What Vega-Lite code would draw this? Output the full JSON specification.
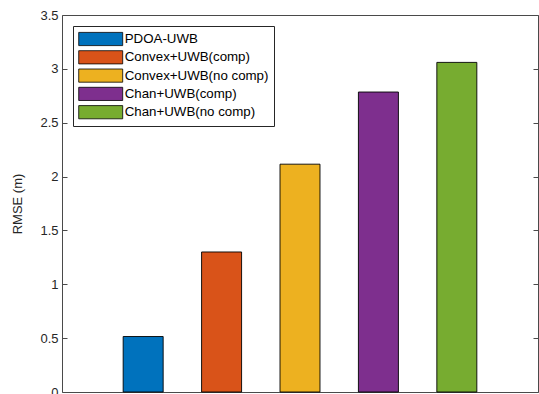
{
  "$schema": "https://vega.github.io/schema/vega-lite/v6.json",
  "autosize": "none",
  "padding": {"left": 62, "top": 15, "right": 1, "bottom": 2},
  "width": 476,
  "height": 377,
  "data": {
    "values": [
      {"method": "PDOA-UWB", "rmse": 0.515},
      {"method": "Convex+UWB(comp)", "rmse": 1.3},
      {"method": "Convex+UWB(no comp)", "rmse": 2.115},
      {"method": "Chan+UWB(comp)", "rmse": 2.785},
      {"method": "Chan+UWB(no comp)", "rmse": 3.06}
    ]
  },
  "config": {
    "view": {"stroke": "#4a4a4a", "strokeWidth": 1},
    "font": "Liberation Sans",
    "axis": {"labelFont": "Liberation Sans", "titleFont": "Liberation Sans", "labelColor": "#262626", "titleColor": "#262626", "grid": false}
  },
  "encoding": {
    "x": {
      "field": "method",
      "type": "nominal",
      "sort": null,
      "scale": {"paddingInner": 0.49, "paddingOuter": 0.78},
      "axis": null
    },
    "y": {
      "field": "rmse",
      "type": "quantitative",
      "scale": {"domain": [0, 3.5], "nice": false, "zero": true}
    }
  },
  "layer": [
    {
      "mark": {"type": "bar", "stroke": "#000000", "strokeWidth": 0.9},
      "encoding": {
        "y": {
          "field": "rmse",
          "type": "quantitative",
          "scale": {"domain": [0, 3.5], "nice": false},
          "axis": {
            "title": "RMSE (m)",
            "titleFontSize": 13,
            "titleFontWeight": "normal",
            "titlePadding": 15,
            "values": [0, 0.5, 1, 1.5, 2, 2.5, 3, 3.5],
            "format": "~g",
            "labelFontSize": 13,
            "domain": false,
            "tickSize": -5,
            "tickColor": "#4a4a4a",
            "labelPadding": 9
          }
        },
        "fill": {
          "field": "method",
          "type": "nominal",
          "sort": null,
          "scale": {
            "domain": ["PDOA-UWB", "Convex+UWB(comp)", "Convex+UWB(no comp)", "Chan+UWB(comp)", "Chan+UWB(no comp)"],
            "range": ["#0072BD", "#D95319", "#EDB120", "#7E2F8E", "#77AC30"]
          },
          "legend": {
            "title": null,
            "orient": "none",
            "legendX": 11,
            "legendY": 11,
            "fillColor": "#ffffff",
            "strokeColor": "#262626",
            "padding": 5,
            "symbolType": "M-3,-0.9H3V0.9H-3Z",
            "symbolSize": 215,
            "symbolOffset": 14.7,
            "symbolStrokeColor": "#000000",
            "symbolStrokeWidth": 0.8,
            "symbolOpacity": 1,
            "labelFontSize": 13.3,
            "labelFont": "Liberation Sans",
            "labelColor": "#000000",
            "labelOffset": 16,
            "rowPadding": 0.3
          }
        }
      }
    },
    {
      "mark": {"type": "bar", "opacity": 0},
      "encoding": {
        "y": {
          "field": "rmse",
          "type": "quantitative",
          "axis": {
            "orient": "right",
            "title": null,
            "labels": false,
            "domain": false,
            "values": [0, 0.5, 1, 1.5, 2, 2.5, 3, 3.5],
            "tickSize": -5,
            "tickColor": "#4a4a4a"
          }
        }
      }
    }
  ],
  "resolve": {"axis": {"y": "independent"}}
}
